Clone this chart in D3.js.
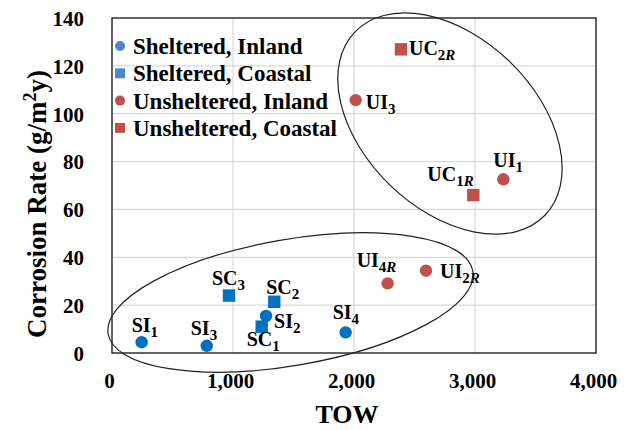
<!DOCTYPE html>
<html>
<head>
<meta charset="utf-8">
<script src="https://cdn.jsdelivr.net/npm/d3@7"></script>
<style>
  body { margin: 0; background: #fff; }
  svg { display: block; }
  text { font-family: "Liberation Serif", "Times New Roman", serif; font-weight: bold; }
</style>
</head>
<body>
<div id="chart"></div>
<script>
// DATA
var seriesNames = ["Sheltered, Inland", "Sheltered, Coastal", "Unsheltered, Inland", "Unsheltered, Coastal"];
var seriesShape = ["circle", "square", "circle", "square"];

// one entry per point: series index, label base, label subscript, TOW, corrosion rate
var pointSeries = [0, 0, 0, 0, 1, 1, 1, 2, 2, 2, 2, 3, 3];
var pointBase   = ["SI", "SI", "SI", "SI", "SC", "SC", "SC", "UI", "UI", "UI", "UI", "UC", "UC"];
var pointSub    = ["1", "2", "3", "4", "1", "2", "3", "1", "2R", "3", "4R", "1R", "2R"];
var pointTOW    = [245, 1273, 783, 1931, 1237, 1341, 967, 3234, 2595, 2014, 2278, 2986, 2388];
var pointRate   = [4.5, 15.5, 3.0, 8.6, 11.0, 21.4, 24.0, 72.6, 34.4, 105.7, 29.1, 66.0, 126.9];

var xTicks = [0, 1000, 2000, 3000, 4000];
var yTicks = [0, 20, 40, 60, 80, 100, 120, 140];

// label placement (offsets in px) - layout only
var labelPos = {
  "SI1": [-10, -10], "SI2": [8, 12], "SI3": [-16, -11], "SI4": [-13, -13],
  "SC1": [-15, 19], "SC2": [-8, -8], "SC3": [-17, -11],
  "UI1": [-10, -12], "UI2R": [14, 7], "UI3": [10, 9], "UI4R": [-31, -16],
  "UC1R": [-46, -14], "UC2R": [8, 6]
};

// hand drawn ellipses: centre in data units, radii px, rotation deg
var ellipses = [
  { tow: 2793, rate: 95.9, rx: 132, ry: 86, rot: 44 },
  { tow: 1475, rate: 21.1, rx: 185, ry: 63, rot: -9.8 }
];

var dataColor = ["#0070C0", "#0070C0", "#C0504D", "#C0504D"];
var legendColor = ["#4A86C8", "#4A86C8", "#C0504D", "#C0504D"];

var width = 632, height = 430;
var margin = { left: 112, right: 36, top: 18, bottom: 77 };

var svg = d3.select('#chart').append('svg')
    .attr('width', width)
    .attr('height', height);

var x = d3.scaleLinear().domain([0, 4000]).range([margin.left, width - margin.right]);
var y = d3.scaleLinear().domain([0, 140]).range([height - margin.bottom, margin.top]);

// grid
svg.append('g')
  .selectAll('line.vg')
  .data(xTicks.slice(1, -1))
  .enter().append('line')
    .attr('x1', d => x(d)).attr('x2', d => x(d))
    .attr('y1', y(0)).attr('y2', y(140))
    .attr('stroke', '#d9d9d9').attr('stroke-width', 1.2);
svg.append('g')
  .selectAll('line.hg')
  .data(yTicks.slice(1, -1))
  .enter().append('line')
    .attr('x1', x(0)).attr('x2', x(4000))
    .attr('y1', d => y(d)).attr('y2', d => y(d))
    .attr('stroke', '#d9d9d9').attr('stroke-width', 1.2);

// plot frame
svg.append('rect')
  .attr('x', x(0)).attr('y', y(140))
  .attr('width', x(4000) - x(0)).attr('height', y(0) - y(140))
  .attr('fill', 'none').attr('stroke', '#222').attr('stroke-width', 1.4);

// axes labels (tick text only)
var xAxis = d3.axisBottom(x).tickValues(xTicks).tickSize(0).tickPadding(0)
    .tickFormat(d3.format(','));
svg.append('g')
  .attr('transform', 'translate(-3,' + (y(0) + 35) + ')')
  .call(xAxis)
  .call(g => g.select('.domain').remove())
  .selectAll('text')
    .attr('dy', 0)
    .style('font-size', '21px').style('font-family', '"Liberation Serif", serif')
    .style('font-weight', 'bold').attr('fill', '#000');

var yAxis = d3.axisLeft(y).tickValues(yTicks).tickSize(0).tickPadding(0);
svg.append('g')
  .attr('transform', 'translate(' + (x(0) - 28) + ',0)')
  .call(yAxis)
  .call(g => g.select('.domain').remove())
  .selectAll('text')
    .attr('dy', '0.35em')
    .style('font-size', '21px').style('font-family', '"Liberation Serif", serif')
    .style('font-weight', 'bold').attr('fill', '#000');

svg.append('text')
  .attr('x', 347).attr('y', 423)
  .attr('text-anchor', 'middle')
  .style('font-size', '26px')
  .text('TOW');

var yt = svg.append('text')
  .attr('transform', 'translate(46,204) rotate(-90)')
  .attr('text-anchor', 'middle')
  .style('font-size', '27px');
yt.append('tspan').text('Corrosion Rate (g/m');
yt.append('tspan').attr('dy', -10).style('font-size', '18px').text('2');
yt.append('tspan').attr('dy', 10).text('y)');

// legend
var legend = svg.append('g').selectAll('g')
  .data(seriesNames)
  .enter().append('g')
    .attr('transform', (d, i) => 'translate(120,' + (46 + i * 27.3) + ')');
legend.each(function(d, i) {
  var g = d3.select(this);
  if (seriesShape[i] == 'circle') {
    g.append('circle').attr('r', 5).attr('fill', legendColor[i]);
  } else {
    g.append('rect').attr('x', -5).attr('y', -5).attr('width', 10).attr('height', 10)
      .attr('fill', legendColor[i]);
  }
  g.append('text').attr('x', 13).attr('y', 8)
    .style('font-size', '23px')
    .text(d);
});

// points
var points = d3.range(pointTOW.length).map(function(i) {
  return { s: pointSeries[i], base: pointBase[i], sub: pointSub[i], tow: pointTOW[i], rate: pointRate[i] };
});

var marks = svg.append('g').selectAll('g')
  .data(points)
  .enter().append('g')
    .attr('transform', d => 'translate(' + x(d.tow) + ',' + y(d.rate) + ')');
marks.each(function(d) {
  var g = d3.select(this);
  if (seriesShape[d.s] == 'circle') {
    g.append('circle').attr('r', 6.2).attr('fill', dataColor[d.s]);
  } else {
    g.append('rect').attr('x', -6.2).attr('y', -6.2).attr('width', 12.4).attr('height', 12.4)
      .attr('fill', dataColor[d.s]);
  }
});

// point labels
var labels = svg.append('g').selectAll('text')
  .data(points)
  .enter().append('text')
    .attr('x', d => x(d.tow) + labelPos[d.base + d.sub][0])
    .attr('y', d => y(d.rate) + labelPos[d.base + d.sub][1])
    .style('font-size', '20px');
labels.each(function(d) {
  var t = d3.select(this);
  t.append('tspan').text(d.base);
  var digits = d.sub.replace(/[A-Z]/g, '');
  var letters = d.sub.replace(/[0-9]/g, '');
  t.append('tspan').attr('dy', 5).style('font-size', '15px').text(digits);
  if (letters) {
    t.append('tspan').style('font-size', '15px').style('font-style', 'italic').text(letters);
  }
});

// ellipses
svg.append('g').selectAll('ellipse')
  .data(ellipses)
  .enter().append('ellipse')
    .attr('transform', d => 'translate(' + x(d.tow) + ',' + y(d.rate) + ') rotate(' + d.rot + ')')
    .attr('rx', d => d.rx).attr('ry', d => d.ry)
    .attr('fill', 'none').attr('stroke', '#222').attr('stroke-width', 1.2);
</script>
</body>
</html>
